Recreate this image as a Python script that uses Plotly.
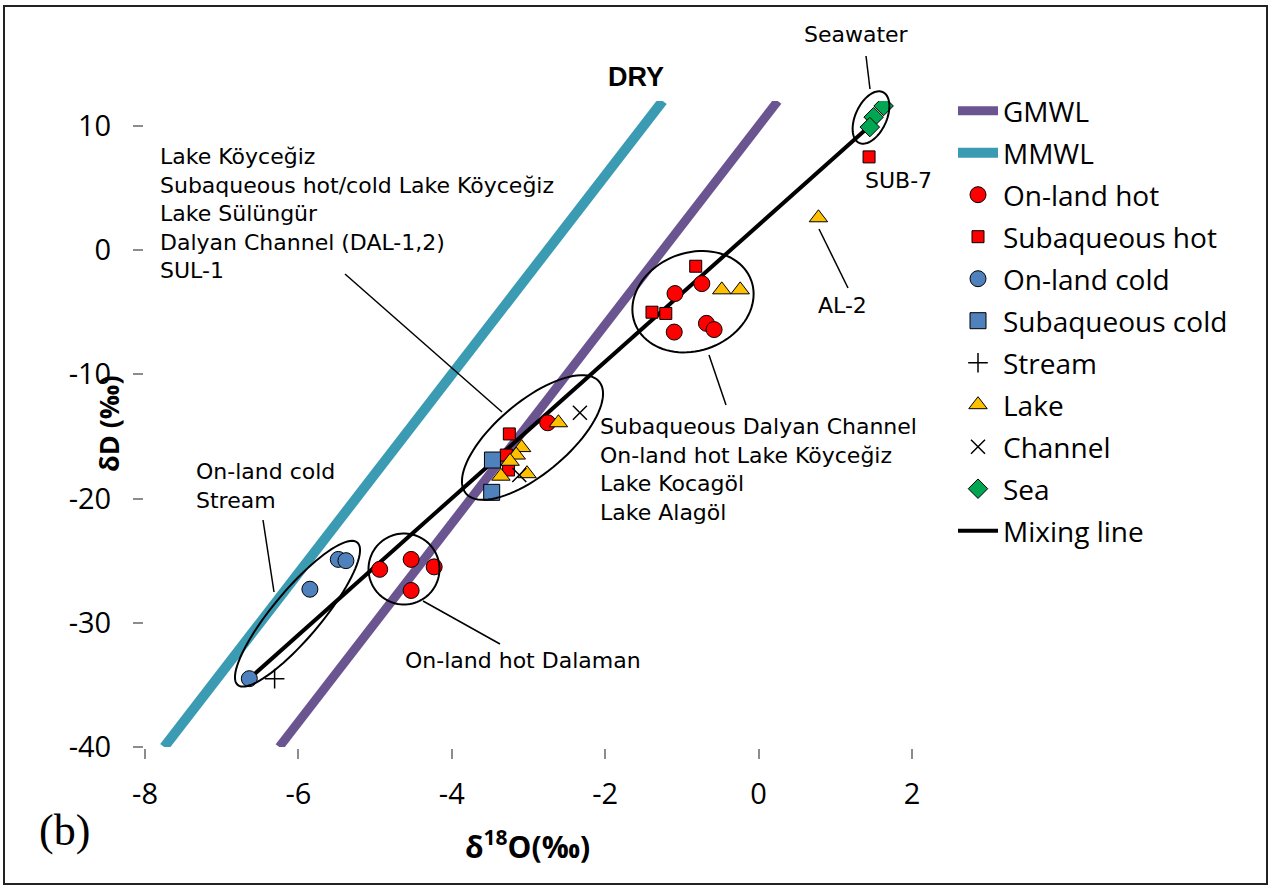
import math
import plotly.graph_objects as go

# ---- data: delta-18O (x, permil) and delta-D (y, permil) ----
gmwl_x = [-6.25, 0.25]
gmwl_y = [-40, 12]
mmwl_x = [-7.75, -1.25]
mmwl_y = [-40, 12]

onland_hot_x = [-4.94, -4.53, -4.23, -4.53, -2.75, -1.09, -0.74, -1.10, -0.68, -0.58]
onland_hot_y = [-25.7, -24.9, -25.5, -27.4, -13.9, -3.5, -2.7, -6.6, -5.9, -6.4]

subaq_hot_x = [-0.82, -1.39, -1.21, -3.25, -3.29, -3.26, 1.44]
subaq_hot_y = [-1.3, -5.0, -5.1, -14.8, -16.5, -17.7, 7.5]

onland_cold_x = [-5.48, -5.38, -5.85, -6.64]
onland_cold_y = [-24.9, -25.0, -27.3, -34.5]

subaq_cold_x = [-3.47, -3.48]
subaq_cold_y = [-16.9, -19.5]

stream_x = [-6.31]
stream_y = [-34.5]

lake_x = [-0.48, -0.24, -2.61, -3.09, -3.16, -3.24, -3.36, -3.02, 0.78]
lake_y = [-3.2, -3.2, -13.9, -15.9, -16.5, -17.0, -18.2, -18.0, 2.6]

channel_x = [-2.33, -3.12]
channel_y = [-13.1, -18.1]

sea_x = [1.63, 1.50, 1.45]
sea_y = [11.6, 10.7, 9.9]

mixing_x = [-6.64, 1.47]
mixing_y = [-34.5, 10.1]

x_ticks = [-8, -6, -4, -2, 0, 2]
y_ticks = [-40, -30, -20, -10, 0, 10]

# ---- layout geometry (pixels) ----
W, H = 1272, 888
L, R, T, B = 145, 912, 101, 747
XR = (-8, 2)
YR = (-40, 12)


def to_paper(px, py):
    return (px - L) / (R - L), (B - py) / (B - T)


def ellipse_path(cx, cy, a, b, ang_deg, n=90):
    th = math.radians(ang_deg)
    pts = []
    for i in range(n):
        t = 2 * math.pi * i / n
        ex = cx + a * math.cos(t) * math.cos(th) + b * math.sin(t) * math.sin(th)
        ey = cy - a * math.cos(t) * math.sin(th) + b * math.sin(t) * math.cos(th)
        pts.append(to_paper(ex, ey))
    return "M " + " L ".join(f"{x:.5f},{y:.5f}" for x, y in pts) + " Z"


PURPLE = "#6B5590"
TEAL = "#3A9BB2"
RED = "#FF0000"
BLUE = "#4F81BD"
ORANGE = "#FFC000"
GREEN = "#00A651"

fig = go.Figure()

fig.add_trace(go.Scatter(x=gmwl_x, y=gmwl_y, mode="lines", name="GMWL",
                         line=dict(color=PURPLE, width=9), zorder=0,
                         legendgroup="g1"))
fig.add_trace(go.Scatter(x=mmwl_x, y=mmwl_y, mode="lines", name="MMWL",
                         line=dict(color=TEAL, width=10), zorder=0,
                         legendgroup="g2"))

mk_line = dict(color="black", width=1)
fig.add_trace(go.Scatter(x=onland_hot_x, y=onland_hot_y, mode="markers", name="On-land hot",
                         marker=dict(symbol="circle", size=16, color=RED, line=mk_line),
                         zorder=2, legendgroup="g3"))
fig.add_trace(go.Scatter(x=subaq_hot_x, y=subaq_hot_y, mode="markers", name="Subaqueous hot",
                         marker=dict(symbol="square", size=12, color=RED, line=mk_line),
                         zorder=2, legendgroup="g4"))
fig.add_trace(go.Scatter(x=onland_cold_x, y=onland_cold_y, mode="markers", name="On-land cold",
                         marker=dict(symbol="circle", size=16, color=BLUE, line=mk_line),
                         zorder=2, legendgroup="g5"))
fig.add_trace(go.Scatter(x=subaq_cold_x, y=subaq_cold_y, mode="markers", name="Subaqueous cold",
                         marker=dict(symbol="square", size=16, color=BLUE, line=mk_line),
                         zorder=2, legendgroup="g6"))
fig.add_trace(go.Scatter(x=stream_x, y=stream_y, mode="markers", name="Stream",
                         marker=dict(symbol="cross-thin", size=14, color="black",
                                     line=dict(color="black", width=1.5)),
                         zorder=2, legendgroup="g7"))
fig.add_trace(go.Scatter(x=lake_x, y=lake_y, mode="markers", name="Lake",
                         marker=dict(symbol="triangle-up", size=16, color=ORANGE, line=mk_line),
                         zorder=2, legendgroup="g8"))
fig.add_trace(go.Scatter(x=channel_x, y=channel_y, mode="markers", name="Channel",
                         marker=dict(symbol="x-thin", size=14, color="black",
                                     line=dict(color="black", width=1.5)),
                         zorder=2, legendgroup="g9"))
fig.add_trace(go.Scatter(x=sea_x, y=sea_y, mode="markers", name="Sea",
                         marker=dict(symbol="diamond", size=15, color=GREEN, line=mk_line),
                         zorder=2, legendgroup="g10", cliponaxis=False))
fig.add_trace(go.Scatter(x=mixing_x, y=mixing_y, mode="lines", name="Mixing line",
                         line=dict(color="black", width=4), zorder=1,
                         legendgroup="g11"))

shapes = []
# group outlines
for cx, cy, a, b, ang in [
    (871, 117.5, 28, 15.5, 65),     # seawater
    (693, 301.7, 62, 49, 20),       # upper cluster
    (532.5, 437.5, 87, 36, 40),     # middle cluster
    (404, 569, 35.5, 35.5, 0),      # Dalaman
    (297.5, 613.7, 93, 24, 50),     # on-land cold
]:
    shapes.append(dict(type="path", xref="paper", yref="paper",
                       path=ellipse_path(cx, cy, a, b, ang),
                       line=dict(color="black", width=2), fillcolor="rgba(0,0,0,0)",
                       layer="above"))

# leader lines
for (x0, y0), (x1, y1) in [
    ((345, 274), (502, 412)),
    ((709, 355), (726, 405)),
    ((263, 520), (274, 592)),
    ((423, 601), (500, 644)),
    ((819, 229), (848, 288)),
    ((866, 56), (870, 89)),
]:
    a0 = to_paper(x0, y0)
    a1 = to_paper(x1, y1)
    shapes.append(dict(type="line", xref="paper", yref="paper",
                       x0=a0[0], y0=a0[1], x1=a1[0], y1=a1[1],
                       line=dict(color="black", width=1.5), layer="above"))

# outer frame
fx0, fy0 = to_paper(4, 884)
fx1, fy1 = to_paper(1267, 6)
shapes.append(dict(type="rect", xref="paper", yref="paper",
                   x0=fx0, y0=fy0, x1=fx1, y1=fy1,
                   line=dict(color="#222222", width=2), fillcolor="rgba(0,0,0,0)"))

NOTE_FONT = "DejaVu Sans, Arial, sans-serif"
SANS = "Open Sans, sans-serif"
annotations = []


def add_text(text, px, py, xanchor="left", size=22, family=NOTE_FONT, bold=False, angle=0):
    xp, yp = to_paper(px, py)
    if bold:
        text = f"<b>{text}</b>"
    annotations.append(dict(text=text, x=xp, y=yp, xref="paper", yref="paper",
                            xanchor=xanchor, yanchor="middle", align="left",
                            showarrow=False, textangle=angle,
                            font=dict(family=family, size=size, color="black")))


add_text("Lake Köyceğiz<br>Subaqueous hot/cold Lake Köyceğiz<br>Lake Sülüngür<br>"
         "Dalyan Channel (DAL-1,2)<br>SUL-1", 158, 213)
add_text("Subaqueous Dalyan Channel<br>On-land hot Lake Köyceğiz<br>Lake Kocagöl<br>Lake Alagöl",
         598, 470)
add_text("On-land cold<br>Stream", 194, 486)
add_text("On-land hot Dalaman", 403, 660)
add_text("SUB-7", 898, 180, xanchor="center")
add_text("AL-2", 842, 305, xanchor="center")
add_text("Seawater", 856, 35, xanchor="center")
add_text("DRY", 636, 77, xanchor="center", size=27, family="Arial, Liberation Sans, sans-serif", bold=True)
add_text("(b)", 64, 830, xanchor="center", size=44, family="Liberation Serif, Times New Roman, serif")
add_text("δD (‰)", 108, 424, xanchor="center", size=27, family=SANS, bold=True, angle=-90)
add_text("δ<sup>18</sup>O(‰)", 527, 845, xanchor="center", size=30, family=SANS, bold=True)

AX_COL = "#8C8C8C"
fig.update_layout(
    width=W, height=H,
    margin=dict(l=L, r=W - R, t=T, b=H - B, pad=0),
    paper_bgcolor="white", plot_bgcolor="white",
    showlegend=True,
    legend=dict(x=(953 - L) / (R - L), y=to_paper(0, 86)[1], xanchor="left", yanchor="top",
                font=dict(family=SANS, size=28, color="black"),
                traceorder="grouped", tracegroupgap=2.6, bgcolor="rgba(0,0,0,0)",
                itemwidth=40, maxheight=800),
    xaxis=dict(range=list(XR), tickvals=x_ticks, ticktext=[str(v) for v in x_ticks],
               showgrid=False, zeroline=False, showline=True, linecolor=AX_COL, linewidth=2,
               ticks="outside", ticklen=10, tickwidth=2, tickcolor=AX_COL,
               ticklabelstandoff=10,
               tickfont=dict(family=SANS, size=29, color="black")),
    yaxis=dict(range=list(YR), tickvals=y_ticks, ticktext=[str(v) for v in y_ticks],
               showgrid=False, zeroline=False, showline=True, linecolor=AX_COL, linewidth=2,
               ticks="outside", ticklen=10, tickwidth=2, tickcolor=AX_COL,
               ticklabelstandoff=16,
               tickfont=dict(family=SANS, size=29, color="black")),
    shapes=shapes,
    annotations=annotations,
)

fig.write_html("out.html")
